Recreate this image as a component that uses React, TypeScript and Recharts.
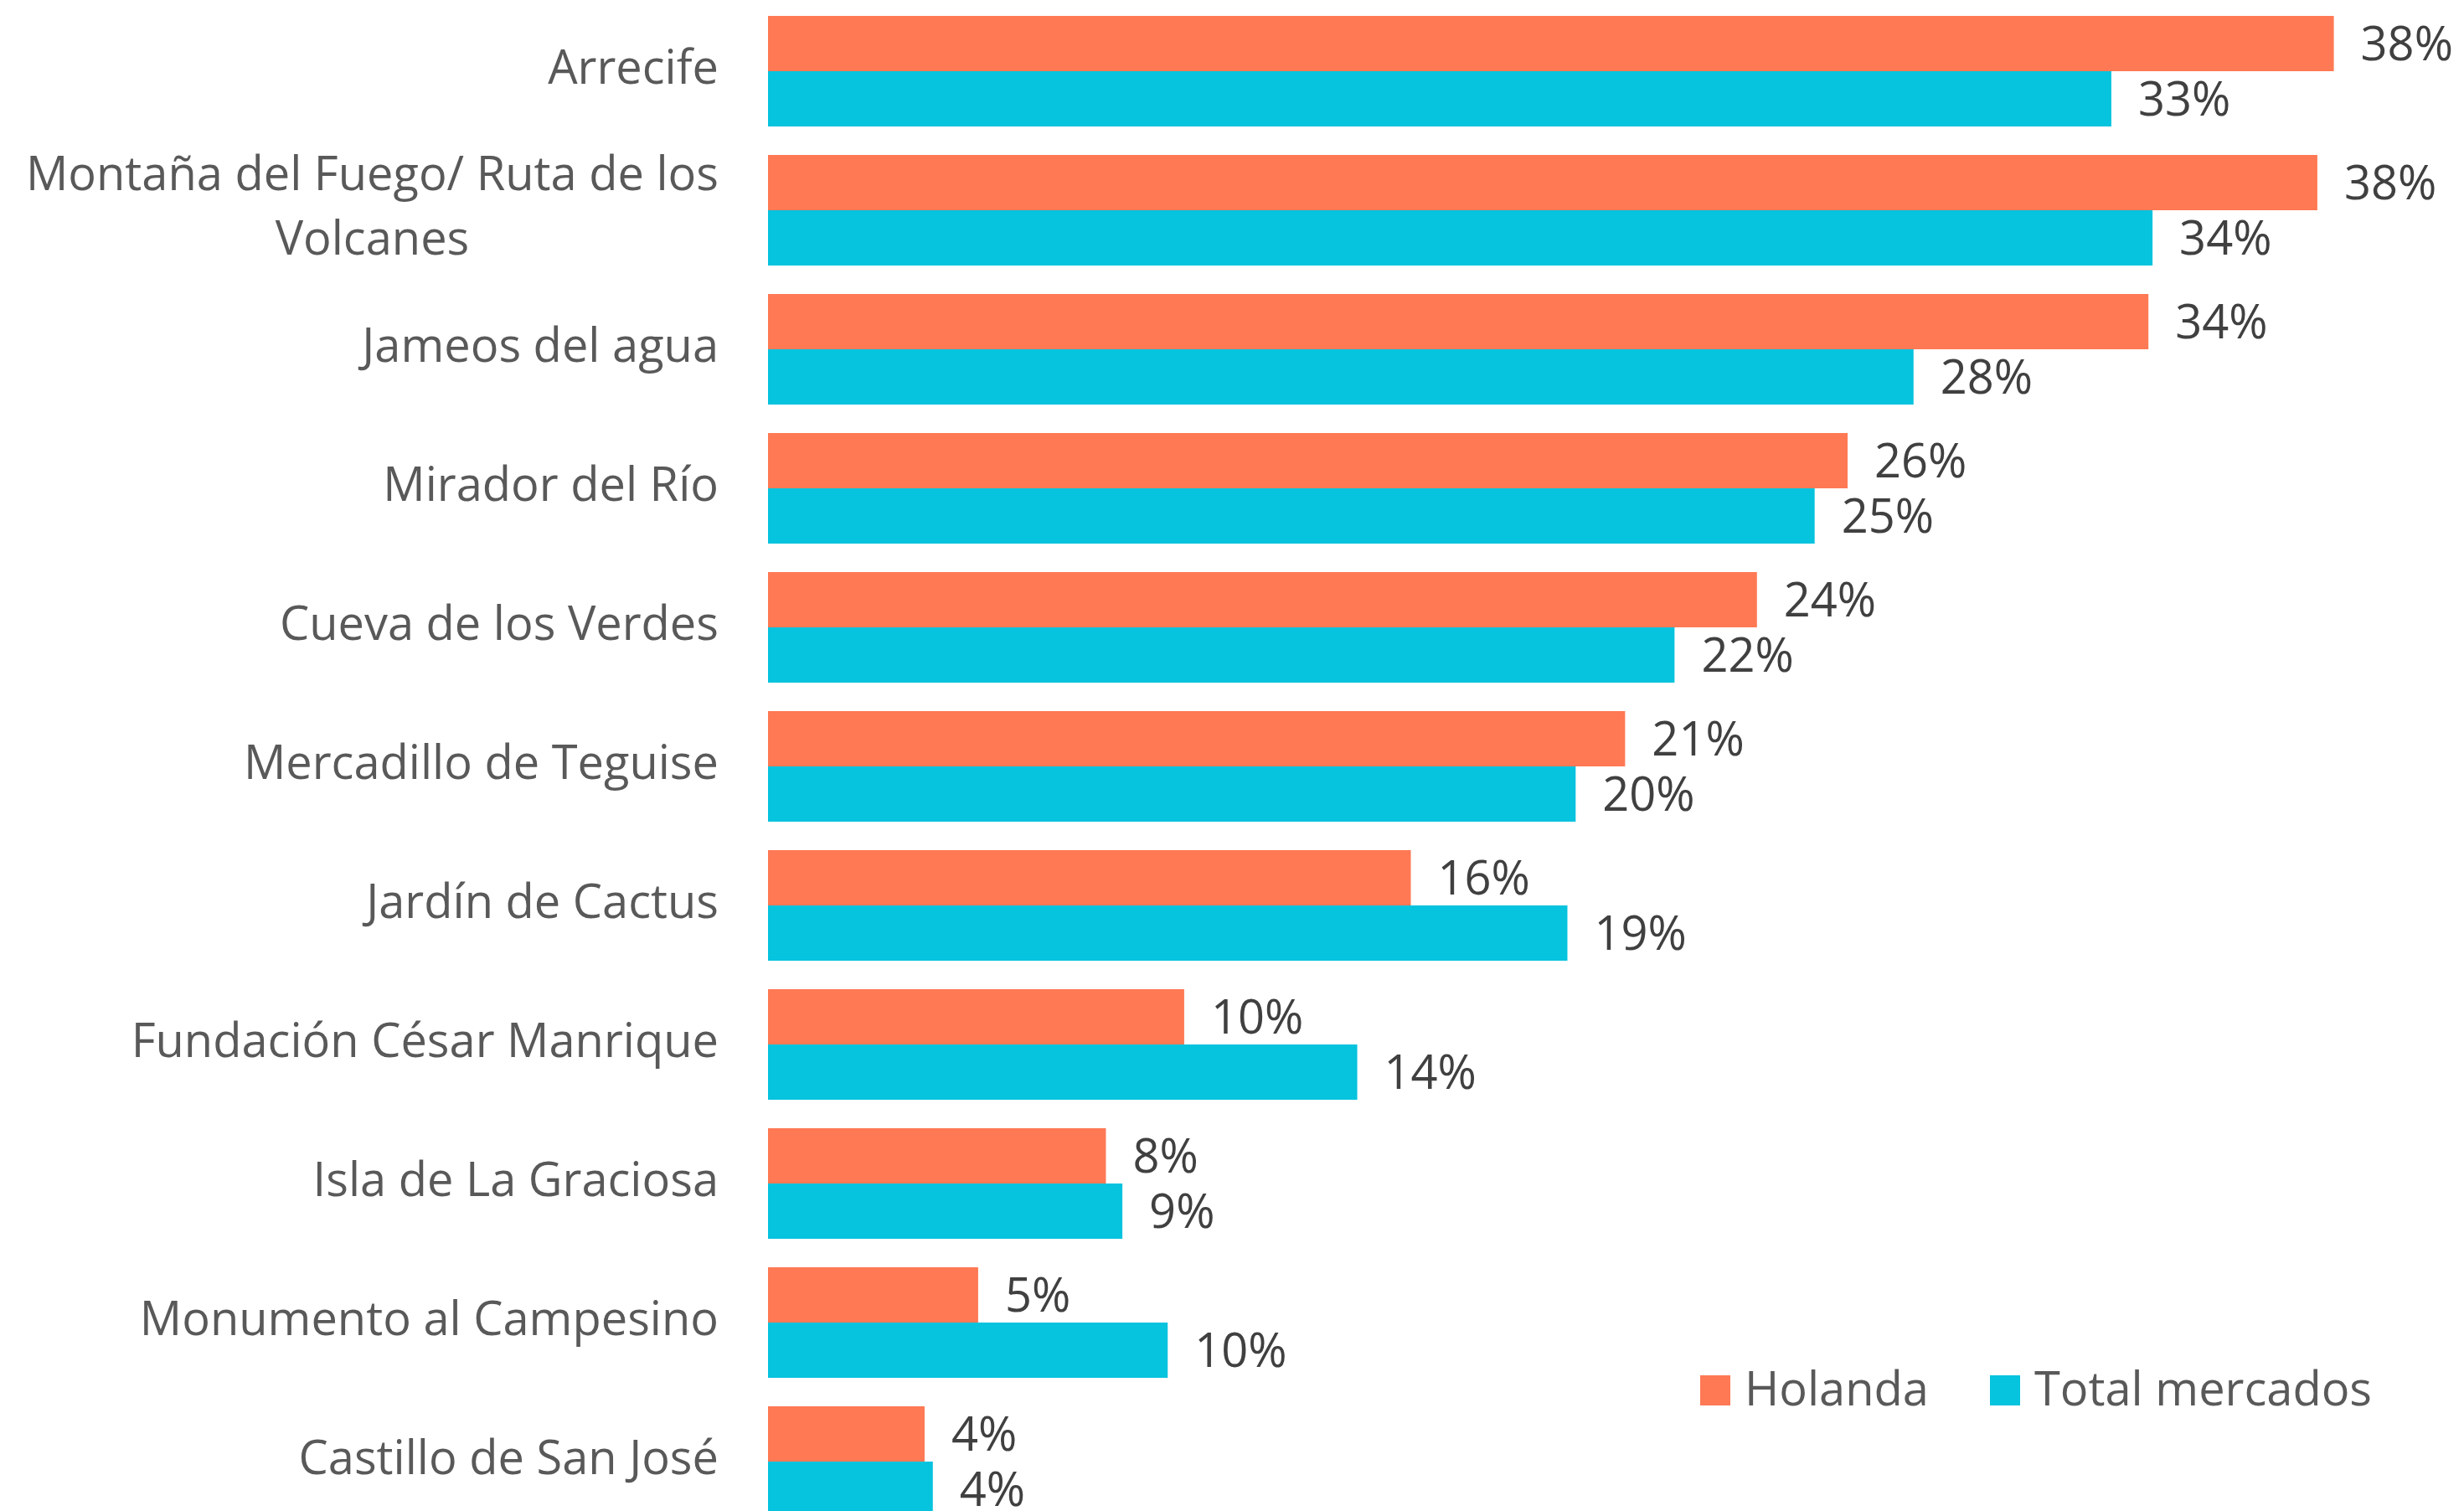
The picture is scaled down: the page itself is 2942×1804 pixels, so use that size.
import { BarChart, Bar, XAxis, YAxis, LabelList, Legend } from 'recharts'

const categories = [
  'Arrecife',
  'Montaña del Fuego/ Ruta de los Volcanes',
  'Jameos del agua',
  'Mirador del Río',
  'Cueva de los Verdes',
  'Mercadillo de Teguise',
  'Jardín de Cactus',
  'Fundación César Manrique',
  'Isla de La Graciosa',
  'Monumento al Campesino',
  'Castillo de San José',
]

// % de visitantes
const holanda = [38.0, 37.6, 33.5, 26.2, 24.0, 20.8, 15.6, 10.1, 8.2, 5.1, 3.8]
const totalMercados = [32.6, 33.6, 27.8, 25.4, 22.0, 19.6, 19.4, 14.3, 8.6, 9.7, 4.0]

const ORANGE = '#FF7954'
const CYAN = '#06C3DE'
const FONT = '"Open Sans", sans-serif'

const data = categories.map((name, i) => ({
  name,
  holanda: holanda[i],
  total: totalMercados[i],
}))

// wrap long category names at ~30 characters, like Excel does
function wrapLabel(text: string, max = 30): string[] {
  const lines: string[] = []
  let cur = ''
  for (const w of text.split(' ')) {
    const next = cur ? `${cur} ${w}` : w
    if (next.length > max && cur) {
      lines.push(cur)
      cur = w
    } else {
      cur = next
    }
  }
  if (cur) lines.push(cur)
  return lines
}

function CategoryTick({ x, y, payload }: { x?: number; y?: number; payload?: { value: string } }) {
  const tx = x ?? 0
  const ty = y ?? 0
  const lines = wrapLabel(payload?.value ?? '')
  return (
    <foreignObject x={tx - 900} y={ty - 83} width={900} height={166}>
      <div
        style={{
          display: 'flex',
          height: '100%',
          alignItems: 'center',
          justifyContent: 'flex-end',
        }}
      >
        <div
          style={{
            position: 'relative',
            top: -7,
            textAlign: 'center',
            whiteSpace: 'nowrap',
            fontFamily: FONT,
            fontSize: 56,
            lineHeight: '77px',
            color: '#595959',
          }}
        >
          {lines.map((l) => (
            <div key={l}>{l}</div>
          ))}
        </div>
      </div>
    </foreignObject>
  )
}

function LegendContent() {
  const items = [
    { label: 'Holanda', color: ORANGE, width: 346 },
    { label: 'Total mercados', color: CYAN, width: 460 },
  ]
  return (
    <div style={{ display: 'flex' }}>
      {items.map((it) => (
        <div key={it.label} style={{ display: 'flex', alignItems: 'flex-start', width: it.width }}>
          <span style={{ width: 36, height: 36, marginTop: 14, marginRight: 17, background: it.color }} />
          <span style={{ fontFamily: FONT, fontSize: 56, lineHeight: '56px', color: '#595959' }}>
            {it.label}
          </span>
        </div>
      ))}
    </div>
  )
}

export default function App() {
  return (
    <div
      style={{
        position: 'absolute',
        top: 0,
        left: 0,
        width: 2942,
        height: 1804,
        overflow: 'hidden',
        background: '#ffffff',
      }}
    >
      <BarChart
        width={2942}
        height={1828}
        data={data}
        layout="vertical"
        barGap={0}
        margin={{ top: 2, right: 57, left: 0, bottom: 0 }}
      >
        <XAxis type="number" domain={[0, 40]} hide />
        <YAxis
          type="category"
          dataKey="name"
          width={917}
          axisLine={false}
          tickLine={false}
          tickSize={0}
          tickMargin={59}
          interval={0}
          tick={<CategoryTick />}
        />
        <Legend
          layout="horizontal"
          verticalAlign="middle"
          align="center"
          content={<LegendContent />}
          wrapperStyle={{ left: 2030, top: 1628, width: 'auto' }}
        />
        <Bar dataKey="holanda" name="Holanda" fill={ORANGE} barSize={66} isAnimationActive={false}>
          <LabelList
            dataKey="holanda"
            position="right"
            offset={32}
            formatter={(v: unknown) => `${Math.round(v as number)}%`}
            style={{ fill: '#404040', fontSize: 56, fontFamily: FONT }}
          />
        </Bar>
        <Bar dataKey="total" name="Total mercados" fill={CYAN} barSize={66} isAnimationActive={false}>
          <LabelList
            dataKey="total"
            position="right"
            offset={32}
            formatter={(v: unknown) => `${Math.round(v as number)}%`}
            style={{ fill: '#404040', fontSize: 56, fontFamily: FONT }}
          />
        </Bar>
      </BarChart>
    </div>
  )
}
